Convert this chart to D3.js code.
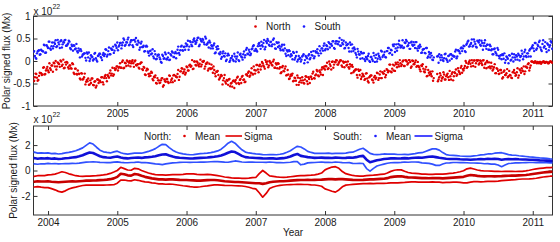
<!DOCTYPE html>
<html>
<head>
<meta charset="utf-8">
<script src="https://cdn.jsdelivr.net/npm/d3@7"></script>
<style>
  body { margin: 0; background: #fff; }
  text { font-family: "Liberation Sans", Arial, sans-serif; fill: #1a1a1a; }
</style>
</head>
<body>
<svg id="chart" width="560" height="242"></svg>
<script>
// top panel: polar signed flux, units of 1e20 Mx, one value every 0.02 yr.
// set A starts at 2003.78, set B at 2003.79 (observations in between)
const fluxStep = 0.02;
const startA = 2003.78, startB = 2003.79;
const northFluxA = [
  -37,-44,-28,-37,-42,-26,-27,-30,-14,-29,-17,
  -21,-5,-20,-10,-4,-12,-19,-3,-7,1, -11,3,-15,-8,-4,-17,-10,-17,-7,-29,
  -17,-30,-28,-39,-27,-41,-36,-52,-42,-39, -52,-49,-39,-54,-45,-55,-41,-44,-47,-36,
  -52,-34,-38,-31,-37,-21,-28,-33,-16,-17,
  -12,-15,-5,-15,1,-15,-5,1,-10,0, -5,2,-13,1,-10,-7,-17,-4,-18,-13,
  -30,-21,-19,-34,-33,-26,-43,-36,-49,-38, -43,-48,-39,-57,-41,-46,-40,-49,-33,-42,
  -47,-31,-33,-36,-20,-35,-23,-17,-24,-30,
  -12,-21,-10,-13,2,-17,-1,-10,-4,-12, 3,-8,-2,-17,-6,-3,-17,-16,-8,-26,
  -20,-34,-24,-31,-38,-31,-52,-38,-46,-42, -53,-40,-50,-57,-43,-46,-50,-35,-51,-40,
  -35,-42,-47,-30,-33,-23,-32,-16,-30,-20,
  -21,-9,-25,-8,-12,-5,-13,2,-7,-14, 0,-4,-10,3,-15,-8,-5,-17,-27,-14,
  -22,-17,-32,-20,-40,-34,-32,-45,-37,-44, -32,-53,-38,-48,-43,-50,-34,-45,-36,-49,
  -35,-28,-38,-32,-20,-32,-21,-30,-14,-16,
  -19,-12,-18,-1,-11,-2,-15,-2,2,-8, -4,2,-10,-1,-14,-2,-8,-14,-7,-27,
  -13,-22,-19,-31,-19,-31,-40,-28,-34,-40, -27,-45,-36,-32,-41,-48,-33,-37,-27,-38,
  -23,-38,-28,-22,-31,-20,-22,-8,-25,-8,
  -10,-4,-14,-8,2,-11,-1,-11,2,-1, -5,2,-15,1,-7,-3,-13,-2,-14,-23,
  -11,-17,-25,-13,-33,-26,-24,-34,-44,null, null,-29,-41,-27,-44,-36,-30,-41,-31,-36,
  -22,-41,-25,-34,-27,-33,-16,-25,-15,-26,
  -21,-11,-4,-13,-2,-6,2,-11,1,-5, 0,-8,1,-5,1,-15,-4,0,-14,-12,
  -4,-21,-14,-27,-16,-22,-28,-20,-39,-24, -31,-27,-36,-22,-32,-38,-24,-27,-31,-16,
  -32,-21,-16,-23,-29,-12,-15,-5,-15,-1,
  -2,-4,-1,-5,-3,-2,-6,-3,-1,-4,-2,-5,-3,-1,-4,-3
];
const northFluxB = [
  -45,-36,-29,-44,-33,-27,-31,-15,-30,-21,-13,
  -25,-16,-10,-24,-5,0,-12,-5,-13,-1, -8,-16,-3,-2,-14,-10,-16,-5,-26,-17,
  -29,-21,-29,-41,-28,-40,-28,-46,-45,-53, -43,-39,-53,-46,-59,-41,-49,-44,-36,-47,
  -38,-31,-45,-34,-27,-32,-15,-30,-20,-12,
  -21,-13,-15,-2,-16,-4,-11,-1,-4,-12, -1,-5,-1,-9,-7,-15,-6,-3,-20,-15,
  -31,-17,-29,-28,-24,-40,-35,-32,-50,-43, -49,-43,-38,-54,-45,-40,-46,-32,-47,-39,
  -32,-44,-35,-29,-42,-23,-16,-27,-19,-26,
  -14,-21,-8,-11,-18,-1,-9,-1,-9,-6, -12,-1,0,-12,-6,-21,-6,-18,-16,-12,
  -28,-24,-22,-41,-35,-33,-43,-31,-50,-44, -41,-56,-49,-45,-60,-42,-37,-49,-42,-49,
  -33,-41,-46,-30,-26,-35,-26,-28,-12,-28,
  -9,-19,-11,-19,-2,-10,-17,-2,-1,-10, -4,-8,-1,-15,-5,-16,-6,-14,-25,-11,
  -23,-12,-31,-30,-39,-30,-28,-44,-38,-53, -37,-47,-43,-36,-49,-41,-35,-51,-40,-35,
  -40,-24,-39,-30,-23,-34,-25,-19,-31,-12,
  -11,-4,-16,-7,-19,-1,-8,-3,1,-8, -1,1,-13,-4,-2,-10,-1,-17,-12,-9,
  -25,-21,-19,-37,-22,-20,-35,-31,-42,-28, -39,-48,-34,-32,-43,-36,-40,-26,-42,-30,
  -38,-25,-28,-36,-18,-25,-8,-23,-17,-21,
  -22,-7,-3,-12,-5,-8,1,-11,1,-8, 2,-2,-12,0,-7,1,-11,-11,-19,-10,
  -7,-23,-19,-34,-20,-31,-29,-23,-38,null, null,-45,-36,-32,-39,-25,-41,-34,-28,-42,
  -34,-29,-43,-25,-19,-30,-22,-29,-11,-18,
  -16,0,-15,-6,1,-12,-4,1,-13,2, 2,-5,0,-9,2,-7,-16,-3,-3,-16,
  -12,-18,-7,-27,-18,-29,-20,-26,-36,-21, -31,-18,-34,-31,-37,-25,-20,-33,-25,-37,
  -19,-26,-21,-12,-23,-14,-7,-21,-10,-1,
  -3,-1,-4,-2,-5,-2,-3,-1,-4,-2,-3,-5,-1,-2,-4,-2
];
const southFluxA = [
  7,22,7,17,23,14,25,22,36,18,35,
  29,43,25,41,33,38,31,47,37,44, 30,42,46,34,36,45,29,36,23,34,
  28,22,28,8,22,14,17,7,19,8, 0,13,9,4,18,2,11,16,9,2,
  18,15,25,14,30,15,25,32,23,34,
  41,32,40,28,41,47,36,41,52,37, 46,35,47,43,37,45,25,39,31,34,
  22,34,21,12,23,17,10,22,4,11, 14,4,-4,11,6,15,4,18,3,12,
  19,9,20,17,32,14,32,24,31,25,
  33,45,32,42,33,47,44,41,51,33, 49,43,47,37,50,38,30,41,35,28,
  39,19,26,27,15,5,17,11,17,3, 16,-2,6,11,0,10,5,19,0,16,
  8,15,8,25,16,25,13,26,33,23,
  27,21,38,34,43,32,47,31,40,45, 34,43,37,50,28,42,31,34,24,36,
  23,28,11,21,24,10,12,20,3,11, -1,11,7,3,12,-5,11,6,12,4,
  20,12,6,22,20,17,33,17,28,34,
  24,35,26,40,37,34,44,27,44,38, 43,34,47,37,28,41,36,29,41,21,
  28,30,18,8,21,14,20,6,18,0, 7,11,0,9,4,18,-2,14,5,11,
  4,21,12,20,8,22,29,18,24,36,
  37,28,23,38,35,31,46,30,40,44, 35,27,41,36,42,29,42,23,29,32,
  19,26,18,29,7,20,8,12,2,null, null,10,-4,8,13,2,6,16,2,11,
  1,15,12,10,21,6,24,21,28,22,
  34,22,36,43,32,37,48,34,43,32, 45,41,36,45,25,40,33,36,25,36,
  24,15,26,20,13,25,6,13,15,5, -4,10,5,13,1,16,-1,8,13,3,
  13,9,23,4,20,11,17,10,26,29,
  35,22,40,28,33,45,25,38,30,42,20,36,31,44,27,24
];
const southFluxB = [
  20,11,5,21,24,15,23,21,35,19,32,
  43,28,33,28,41,46,33,41,29,46, 37,41,47,34,39,43,26,33,35,26,
  38,19,23,26,10,15,17,1,16,19, 5,10,1,16,6,-1,13,16,7,14,
  11,26,10,22,15,28,25,18,36,29,
  24,35,40,35,50,34,42,48,35,42, 46,31,47,51,36,41,30,43,31,21,
  32,32,18,22,15,26,6,15,5,14, 8,-2,14,5,19,4,8,2,15,21,
  9,17,6,25,18,24,34,23,32,39,
  36,25,44,36,42,50,38,46,52,36, 45,49,41,54,36,41,45,28,33,35,
  17,31,33,17,20,9,21,10,0,12, 13,1,7,3,16,-1,10,2,14,10,
  3,21,13,29,15,20,16,28,35,23,
  24,33,40,27,35,40,26,44,49,36, 42,33,47,37,27,40,41,28,32,25,
  36,16,24,13,22,15,4,18,7,20, 3,5,-1,10,15,2,9,-3,15,7,
  13,22,10,19,26,12,23,28,23,39,
  27,33,42,30,38,44,29,39,44,37, 51,34,40,45,29,35,38,21,36,37,
  22,26,14,27,15,5,17,17,4,9, 4,16,-2,9,0,12,7,-1,16,8,
  23,9,14,9,22,29,17,25,14,33,
  20,37,30,45,30,34,29,41,47,33, 40,27,43,34,36,42,28,33,36,18,
  25,27,17,29,10,15,18,3,8,null, null,11,15,2,8,0,15,5,-2,12,
  15,5,12,10,25,10,23,17,30,28,
  33,20,39,45,33,40,32,48,38,30, 44,46,34,40,34,46,27,36,25,33,
  26,15,28,17,29,11,12,4,13,17, 2,8,-5,12,3,8,15,3,10,16,
  1,11,16,10,25,9,17,23,10,31,
  28,40,25,36,42,30,22,46,33,27,39,24,35,41,29,33
];

// bottom panel: running mean and sigma, units of 1e22 Mx, every 0.05 yr from 2003.75
const statStart = 2003.75, statStep = 0.05;
const northMean = [
  -0.85,-0.88,-0.84,-0.86,-0.87,
  -0.85,-0.88,-0.9,-0.92,-0.9,-0.88,-0.86,-0.85,-0.86,-0.84,-0.82,-0.8,-0.8,-0.79,-0.78,-0.76,-0.75,-0.72,-0.68,-0.62,
  -0.5,-0.25,-0.3,-0.38,-0.4,-0.28,-0.32,-0.42,-0.5,-0.56,-0.62,-0.66,-0.7,-0.7,-0.72,-0.7,-0.7,-0.72,-0.74,-0.75,
  -0.75,-0.77,-0.78,-0.8,-0.8,-0.78,-0.76,-0.75,-0.75,-0.77,-0.8,-0.84,-0.86,-0.88,-0.9,-0.9,-0.92,-0.94,-0.96,-0.98,
  -1.0,-1.0,-1.05,-1.0,-0.92,-0.88,-0.86,-0.85,-0.84,-0.82,-0.8,-0.78,-0.76,-0.75,-0.75,-0.74,-0.75,-0.74,-0.73,-0.72,
  -0.7,-0.68,-0.68,-0.7,-0.68,-0.68,-0.7,-0.72,-0.74,-0.75,-0.75,-0.74,-0.72,-0.7,-0.7,-0.68,-0.66,-0.65,-0.6,-0.52,
  -0.48,-0.46,-0.45,-0.5,-0.54,-0.55,-0.56,-0.58,-0.6,-0.6,-0.61,-0.6,-0.6,-0.6,-0.62,-0.6,-0.58,-0.56,-0.54,-0.52,
  -0.5,-0.42,-0.36,-0.38,-0.42,-0.45,-0.46,-0.45,-0.45,-0.46,-0.45,-0.44,-0.42,-0.41,-0.4,-0.4,-0.38,-0.37,-0.35,-0.32,
  -0.28,-0.24,-0.2,-0.16,-0.13,-0.11,-0.1
];
const northSigma = [
  0.4,0.42,0.43,0.45,0.47,
  0.5,0.55,0.62,0.72,0.8,0.72,0.6,0.52,0.45,0.4,0.36,0.35,0.35,0.36,0.37,0.38,0.4,0.42,0.45,0.5,
  0.5,0.5,0.45,0.42,0.42,0.45,0.45,0.42,0.4,0.36,0.35,0.34,0.35,0.35,0.36,0.36,0.38,0.4,0.42,0.45,
  0.48,0.5,0.52,0.5,0.48,0.46,0.45,0.42,0.38,0.36,0.35,0.33,0.32,0.3,0.3,0.31,0.3,0.32,0.36,0.42,
  0.45,0.75,1.05,0.8,0.5,0.42,0.36,0.32,0.3,0.3,0.31,0.32,0.33,0.34,0.35,0.36,0.38,0.4,0.45,0.52,
  0.75,0.85,0.95,1.0,0.85,0.6,0.45,0.4,0.35,0.32,0.3,0.3,0.31,0.32,0.33,0.34,0.35,0.36,0.4,0.45,
  0.5,0.52,0.5,0.44,0.38,0.35,0.34,0.33,0.32,0.31,0.3,0.3,0.31,0.32,0.33,0.34,0.35,0.36,0.38,0.42,
  0.48,0.55,0.55,0.5,0.46,0.44,0.42,0.41,0.4,0.39,0.38,0.36,0.35,0.34,0.33,0.32,0.31,0.3,0.32,0.34,
  0.36,0.37,0.36,0.35,0.35,0.34,0.35
];
const southMean = [
  0.95,0.98,0.93,0.96,0.94,
  0.97,0.93,0.95,0.91,0.93,0.96,0.98,1.02,1.05,1.12,1.2,1.32,1.42,1.38,1.25,1.12,1.05,1.02,1.0,1.06,
  1.1,1.02,0.97,0.95,0.98,1.0,1.02,0.99,1.03,1.05,1.08,1.12,1.2,1.26,1.28,1.18,1.1,1.03,1.0,0.98,
  0.96,0.94,0.95,0.97,0.99,1.0,1.02,1.05,1.08,1.12,1.18,1.28,1.4,1.5,1.45,1.3,1.15,1.05,1.02,1.0,
  0.98,0.97,0.95,0.94,0.96,0.95,0.93,0.95,0.97,1.03,1.1,1.22,1.3,1.15,1.1,1.05,1.02,0.99,1.0,1.01,
  0.99,1.0,0.98,1.01,1.0,0.98,0.99,1.02,1.0,1.05,1.12,1.15,0.85,0.65,0.72,0.8,0.85,0.9,0.93,0.95,
  0.96,0.94,0.95,0.97,0.95,0.98,1.0,1.02,1.0,1.04,1.08,1.1,1.05,1.0,0.96,0.92,0.9,0.91,0.9,0.88,
  0.87,0.86,0.85,0.87,0.88,0.9,0.89,0.92,0.9,0.93,0.91,0.85,0.88,0.9,0.89,0.9,0.88,0.87,0.86,0.85,
  0.84,0.82,0.8,0.79,0.78,0.76,0.75
];
const southSigma = [
  0.45,0.46,0.44,0.43,0.42,
  0.41,0.4,0.4,0.39,0.4,0.42,0.44,0.46,0.5,0.54,0.58,0.66,0.75,0.7,0.58,0.48,0.42,0.4,0.38,0.4,
  0.42,0.38,0.35,0.34,0.35,0.36,0.35,0.37,0.4,0.45,0.52,0.6,0.7,0.8,0.76,0.62,0.5,0.42,0.36,0.33,
  0.31,0.3,0.3,0.32,0.33,0.34,0.35,0.36,0.38,0.42,0.5,0.62,0.75,0.8,0.7,0.58,0.48,0.4,0.36,0.34,
  0.33,0.32,0.3,0.3,0.29,0.3,0.31,0.33,0.36,0.4,0.45,0.52,0.6,0.7,0.6,0.45,0.4,0.36,0.35,0.34,
  0.35,0.36,0.35,0.34,0.35,0.36,0.38,0.4,0.44,0.5,0.55,0.6,0.7,0.7,0.55,0.45,0.42,0.4,0.36,0.34,
  0.33,0.32,0.31,0.3,0.3,0.31,0.33,0.36,0.4,0.46,0.52,0.6,0.65,0.6,0.45,0.33,0.3,0.28,0.27,0.26,
  0.25,0.25,0.26,0.28,0.3,0.33,0.36,0.38,0.4,0.43,0.48,0.55,0.45,0.35,0.32,0.3,0.28,0.26,0.24,0.22,
  0.21,0.2,0.19,0.18,0.17,0.16,0.15
];

const topYears = [2005, 2006, 2007, 2008, 2009, 2010, 2011];
const bottomYears = [2004, 2005, 2006, 2007, 2008, 2009, 2010, 2011];
const topTicks = [-1, -0.5, 0, 0.5, 1];
const bottomTicks = [-2, 0, 2];

const RED = "#e00000", RED_DARK = "#c80000";
const BLUE = "#1c1cff", BLUE_DARK = "#1010d8";

const svg = d3.select("#chart");
const x = d3.scaleLinear().domain([2003.79, 2011.285]).range([33.5, 552.5]);
const yTop = d3.scaleLinear().domain([-1, 1]).range([106, 16]);
const yBot = d3.scaleLinear().domain([-3.5, 3.5]).range([215, 126]);

function panel(id, y, xticks, yticks, exponentY) {
  const [b, t] = y.range();
  const [l, r] = x.range();
  svg.append("clipPath").attr("id", id).append("rect")
    .attr("x", l).attr("y", t).attr("width", r - l).attr("height", b - t);

  const fmt = d => String(d);
  svg.append("g").attr("transform", `translate(0,${b})`)
    .call(d3.axisBottom(x).tickValues(xticks).tickSize(-4).tickPadding(4).tickFormat(fmt));
  svg.append("g").attr("transform", `translate(0,${t})`)
    .call(d3.axisTop(x).tickValues(xticks).tickSize(-4).tickFormat(""));
  svg.append("g").attr("transform", `translate(${l},0)`)
    .call(d3.axisLeft(y).tickValues(yticks).tickSize(-4).tickPadding(3).tickFormat(fmt));
  svg.append("g").attr("transform", `translate(${r},0)`)
    .call(d3.axisRight(y).tickValues(yticks).tickSize(-4).tickFormat(""));

  svg.selectAll(".domain").remove();
  svg.selectAll(".tick line").attr("stroke", "#333");
  svg.selectAll(".tick text").attr("font-size", 10).attr("fill", "#1a1a1a")
    .attr("font-family", "Liberation Sans, Arial, sans-serif");

  svg.append("rect").attr("x", l).attr("y", t).attr("width", r - l).attr("height", b - t)
    .attr("fill", "none").attr("stroke", "#333").attr("stroke-width", 1);

  // exponent label
  const ex = svg.append("text").attr("x", l).attr("y", exponentY).attr("font-size", 10);
  ex.append("tspan").text("x 10");
  ex.append("tspan").attr("dy", -6).attr("font-size", 7).text("22");
}

panel("clipTop", yTop, topYears, topTicks, 15);
panel("clipBot", yBot, bottomYears, bottomTicks, 122.5);

// top panel scatter
const toPoints = (arr, start) => arr.map((v, i) => ({ t: start + i * fluxStep, v }))
  .filter(d => d.v !== null);
const gTop = svg.append("g").attr("clip-path", "url(#clipTop)");
[[northFluxA, startA, RED], [northFluxB, startB, RED],
 [southFluxA, startA, BLUE], [southFluxB, startB, BLUE]].forEach(([arr, start, c]) => {
  gTop.append("g").selectAll("circle")
    .data(toPoints(arr, start))
    .join("circle")
    .attr("cx", d => x(d.t))
    .attr("cy", d => yTop(d.v / 100))
    .attr("r", 1.2)
    .attr("fill", c);
});

// bottom panel lines
const gBot = svg.append("g").attr("clip-path", "url(#clipBot)");
const line = d3.line().x(d => x(d.t)).y(d => yBot(d.v));
function series(mean, sigma, cMean, cSig) {
  const m = mean.map((v, i) => ({ t: statStart + i * statStep, v }));
  const up = mean.map((v, i) => ({ t: statStart + i * statStep, v: v + sigma[i] }));
  const lo = mean.map((v, i) => ({ t: statStart + i * statStep, v: v - sigma[i] }));
  [up, lo].forEach(s => gBot.append("path").attr("d", line(s))
    .attr("fill", "none").attr("stroke", cSig).attr("stroke-width", 1.7)
    .attr("stroke-linejoin", "round"));
  gBot.append("path").attr("d", line(m))
    .attr("fill", "none").attr("stroke", cMean).attr("stroke-width", 2.6)
    .attr("stroke-linejoin", "round");
}
series(northMean, northSigma, RED_DARK, RED);
series(southMean, southSigma, BLUE_DARK, "#3050ff");

// legends
const leg = svg.append("g").attr("font-size", 10);
function dotItem(cx, cy, c, label) {
  leg.append("circle").attr("cx", cx).attr("cy", cy).attr("r", 1.3).attr("fill", c);
  leg.append("text").attr("x", cx + 10.5).attr("y", cy).attr("dy", "0.35em").text(label);
}
function lineItem(x0, x1, cy, c, label) {
  leg.append("line").attr("x1", x0).attr("x2", x1).attr("y1", cy).attr("y2", cy)
    .attr("stroke", c).attr("stroke-width", 1.6);
  leg.append("text").attr("x", x1 + 2).attr("y", cy).attr("dy", "0.35em").text(label);
}
dotItem(255.5, 26.5, RED, "North");
dotItem(304, 26.5, BLUE, "South");

leg.append("text").attr("x", 144).attr("y", 136).attr("dy", "0.35em").text("North:");
dotItem(184.5, 136, RED, "Mean");
lineItem(225.5, 242, 136, RED, "Sigma");
leg.append("text").attr("x", 333).attr("y", 136).attr("dy", "0.35em").text("South:");
dotItem(375.5, 136, BLUE, "Mean");
lineItem(414.5, 432.5, 136, BLUE, "Sigma");

// axis titles
svg.append("text").attr("transform", "translate(9.5,61) rotate(-90)")
  .attr("text-anchor", "middle").attr("font-size", 10).text("Polar signed flux (Mx)");
svg.append("text").attr("transform", "translate(16.5,170.5) rotate(-90)")
  .attr("text-anchor", "middle").attr("font-size", 10).text("Polar signed flux (Mx)");
svg.append("text").attr("x", 293).attr("y", 236).attr("text-anchor", "middle")
  .attr("font-size", 10).text("Year");
</script>
</body>
</html>
